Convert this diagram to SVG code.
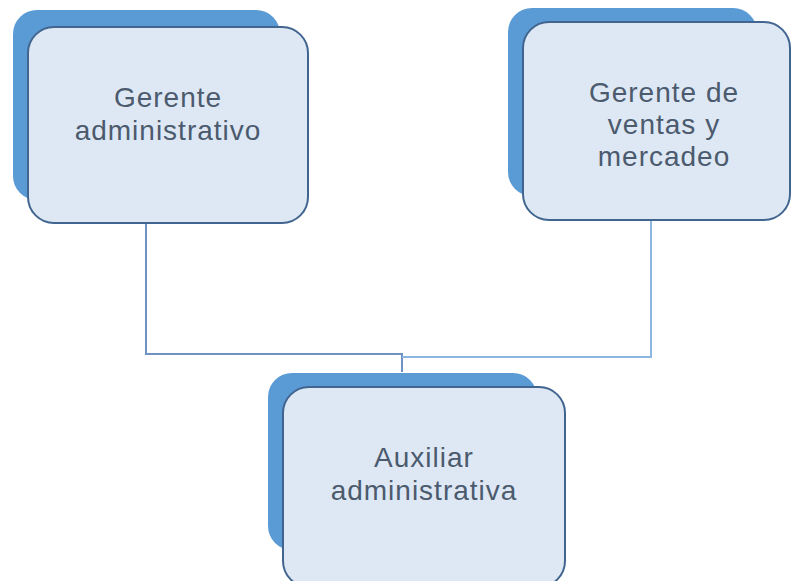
<svg xmlns="http://www.w3.org/2000/svg" width="791" height="581" viewBox="0 0 791 581">
<style>
.back{fill:#5b9bd5;}
.front{fill:#dde8f4;stroke:#41658f;stroke-width:2;}
.lbl{font-family:"Liberation Sans",Arial,sans-serif;font-size:28px;letter-spacing:1px;fill:#4c5a6e;text-anchor:middle;}
.conn{fill:none;stroke-width:2;}
</style>
<rect width="791" height="581" fill="#ffffff"/>
<g id="connectors">
<path class="conn" stroke="#6e93c2" d="M146,223 V354 H402 V372"/>
<path class="conn" stroke="#8cb6e2" d="M651,220 V357 H402"/>
</g>
<g id="node-gerente-administrativo">
<rect class="back" x="13" y="10" width="267" height="190" rx="24"/>
<rect class="front" x="28" y="27" width="280" height="196" rx="26"/>
<text class="lbl" x="168" y="107">Gerente</text>
<text class="lbl" x="168" y="140">administrativo</text>
</g>
<g id="node-gerente-ventas">
<rect class="back" x="508" y="8" width="249" height="188" rx="24"/>
<rect class="front" x="523" y="22" width="267" height="198" rx="26"/>
<text class="lbl" x="664" y="102">Gerente de</text>
<text class="lbl" x="664" y="134">ventas y</text>
<text class="lbl" x="664" y="166">mercadeo</text>
</g>
<g id="node-auxiliar">
<rect class="back" x="268" y="373" width="269" height="177" rx="24"/>
<rect class="front" x="283" y="387" width="282" height="200" rx="26"/>
<text class="lbl" x="424" y="467">Auxiliar</text>
<text class="lbl" x="424" y="500">administrativa</text>
</g>
</svg>
